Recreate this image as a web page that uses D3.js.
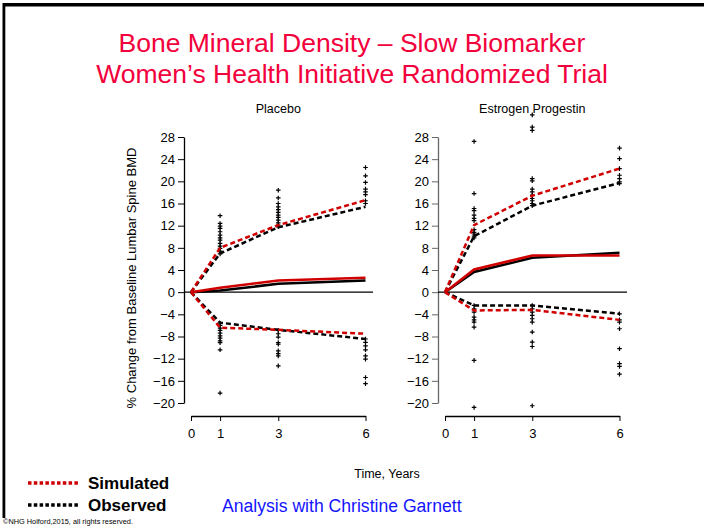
<!DOCTYPE html>
<html>
<head>
<meta charset="utf-8">
<script src="https://cdn.jsdelivr.net/npm/d3@7"></script>
<style>
  body { margin: 0; background: #fff; }
  svg { display: block; font-family: "Liberation Sans", Arial, sans-serif; }
</style>
</head>
<body>
<div id="chart"></div>
<script>
// time points (years)
const times = [0, 1, 3, 6];
const xTicks = [0, 1, 3, 6];
const yTicks = [-20, -16, -12, -8, -4, 0, 4, 8, 12, 16, 20, 24, 28];

// Placebo: percentile bands and medians
const placeboSimUpper = [0, 8.0, 12.1, 16.6];
const placeboObsUpper = [0, 7.0, 11.7, 15.4];
const placeboSimMedian = [0, 0.8, 2.1, 2.6];
const placeboObsMedian = [0, 0.3, 1.5, 2.1];
const placeboSimLower = [0, -6.4, -6.8, -7.5];
const placeboObsLower = [0, -5.5, -6.8, -8.45];

// Estrogen Progestin
const epSimUpper = [0, 12.1, 17.4, 22.3];
const epObsUpper = [0, 10.1, 15.6, 19.7];
const epSimMedian = [0, 4.1, 6.6, 6.6];
const epObsMedian = [0, 3.65, 6.2, 7.1];
const epSimLower = [0, -3.3, -3.2, -5.0];
const epObsLower = [0, -2.4, -2.4, -3.9];

// observed individual values, by time
const placeboPoints = {
  1: [13.8, 12.4, 11.9, 11.5, 10.9, 10.3, 9.8, 9.4, 8.8, 8.3, 7.9, 7.4, 6.9,
      -5.6, -6.0, -6.5, -6.9, -7.4, -7.9, -8.3, -8.8, -9.1, -10.4, -18.2],
  3: [18.4, 17.0, 16.0, 15.4, 14.9, 14.4, 13.9, 13.5, 13.0, 12.5, 12.1, 11.8,
      -6.9, -7.5, -8.1, -9.1, -9.4, -10.6, -11.1, -11.5, -13.3],
  6: [22.5, 21.0, 19.8, 18.6, 18.1, 17.6, 16.5, 16.0,
      -8.45, -9.05, -9.7, -10.4, -11.5, -12.1, -15.4, -16.5]
};
const epPoints = {
  1: [27.2, 17.8, 15.1, 14.7, 13.9, 13.3, 12.9, 11.3, 10.8, 10.5, 10.1, 9.8,
      -2.4, -3.0, -3.6, -4.5, -5.0, -5.4, -6.3, -12.3, -20.8],
  3: [32.0, 29.8, 29.2, 20.5, 20.1, 18.6, 18.1, 17.5, 16.9, 16.5, 16.0, 15.6,
      -2.4, -3.0, -3.6, -4.2, -4.8, -5.4, -7.2, -9.0, -9.8, -20.5],
  6: [26.0, 24.1, 22.3, 21.1, 20.5, 19.9, 19.6,
      -3.9, -5.0, -5.4, -6.6, -10.2, -12.9, -13.4, -14.8]
};

const W = 704, H = 531;
const svg = d3.select('#chart').append('svg')
  .attr('width', W).attr('height', H);

// slide frame
svg.append('rect').attr('x', 3.5).attr('y', 3).attr('width', W).attr('height', 3.5).attr('fill', '#000');
svg.append('rect').attr('x', 2.5).attr('y', 3).attr('width', 2.8).attr('height', 515).attr('fill', '#000');

// title
const titleColor = '#f2003c';
svg.append('text').attr('x', 352).attr('y', 52).attr('text-anchor', 'middle')
  .attr('font-size', 26.5).attr('fill', titleColor)
  .text('Bone Mineral Density – Slow Biomarker');
svg.append('text').attr('x', 352).attr('y', 83).attr('text-anchor', 'middle')
  .attr('font-size', 26.5).attr('fill', titleColor)
  .text('Women’s Health Initiative Randomized Trial');

const y = d3.scaleLinear().domain([-20, 28]).range([403, 137]);

const panels = [
  { name: 'Placebo', x0: 191, axisColor: '#000',
    simU: placeboSimUpper, obsU: placeboObsUpper,
    simM: placeboSimMedian, obsM: placeboObsMedian,
    simL: placeboSimLower, obsL: placeboObsLower, pts: placeboPoints },
  { name: 'Estrogen Progestin', x0: 445, axisColor: '#666',
    simU: epSimUpper, obsU: epObsUpper,
    simM: epSimMedian, obsM: epObsMedian,
    simL: epSimLower, obsL: epObsLower, pts: epPoints }
];

const red = '#d00000';

panels.forEach(p => {
  const x = d3.scaleLinear().domain([0, 6]).range([p.x0, p.x0 + 174.5]);
  const g = svg.append('g');
  const axisX = x(0) - 7;

  // panel label
  g.append('text').attr('x', (x(0) + x(6)) / 2).attr('y', 113)
    .attr('text-anchor', 'middle').attr('font-size', 12.5).text(p.name);

  // y axis
  const yAxis = g.append('g').attr('transform', `translate(${axisX},0)`)
    .call(d3.axisLeft(y).tickValues(yTicks).tickSize(6).tickSizeOuter(0).tickPadding(3));
  yAxis.selectAll('text').attr('font-size', 13).attr('fill', '#000').attr('font-family', null);
  yAxis.select('.domain').attr('stroke', p.axisColor).attr('stroke-width', 1.3);
  yAxis.selectAll('.tick line').attr('stroke', p.axisColor);

  // x axis
  const xAxis = g.append('g').attr('transform', 'translate(0,416)')
    .call(d3.axisBottom(x).tickValues(xTicks).tickFormat(d3.format('d'))
      .tickSize(5).tickSizeOuter(0).tickPadding(8));
  xAxis.selectAll('text').attr('font-size', 13).attr('fill', '#000').attr('font-family', null);
  xAxis.select('.domain').attr('stroke-width', 1.3);

  // zero reference line
  g.append('line').attr('x1', axisX).attr('x2', x(6) + 7.5)
    .attr('y1', y(0)).attr('y2', y(0)).attr('stroke', '#000').attr('stroke-width', 1.2);

  // observed points
  const pts = [];
  Object.keys(p.pts).forEach(t => p.pts[t].forEach(v => pts.push([+t, v])));
  g.append('g').selectAll('path').data(pts).enter().append('path')
    .attr('d', d => `M${x(d[0]) - 2.3},${y(d[1])}h4.6M${x(d[0])},${y(d[1]) - 2.3}v4.6`)
    .attr('stroke', '#000').attr('stroke-width', 1.2);

  const line = d3.line().x((d, i) => x(times[i])).y(d => y(d));
  const draw = (vals, color, dash) => g.append('path').datum(vals)
    .attr('d', line).attr('fill', 'none').attr('stroke', color)
    .attr('stroke-width', 2.5).attr('stroke-dasharray', dash);

  draw(p.obsU, '#000', '5,3');
  draw(p.obsL, '#000', '5,3');
  draw(p.obsM, '#000', null);
  draw(p.simU, red, '5,3');
  draw(p.simL, red, '5,3');
  draw(p.simM, red, null);
});

// y axis label
svg.append('text').attr('transform', 'translate(136,278) rotate(-90)')
  .attr('text-anchor', 'middle').attr('font-size', 13)
  .text('% Change from Baseline Lumbar Spine BMD');

// x axis label
svg.append('text').attr('x', 387).attr('y', 478).attr('text-anchor', 'middle')
  .attr('font-size', 12.5).text('Time, Years');

// legend
const legend = [
  { label: 'Simulated', color: red, y: 483 },
  { label: 'Observed', color: '#000', y: 505 }
];
legend.forEach(l => {
  svg.append('line').attr('x1', 28).attr('x2', 80).attr('y1', l.y).attr('y2', l.y)
    .attr('stroke', l.color).attr('stroke-width', 3.5).attr('stroke-dasharray', '3.5,2.3');
  svg.append('text').attr('x', 88).attr('y', l.y + 6).attr('font-size', 17)
    .attr('font-weight', 'bold').text(l.label);
});

svg.append('text').attr('x', 222).attr('y', 512).attr('font-size', 17.6)
  .attr('fill', '#1414ff').text('Analysis with Christine Garnett');

svg.append('text').attr('x', 3).attr('y', 524).attr('font-size', 7)
  .attr('textLength', 130).attr('lengthAdjust', 'spacingAndGlyphs')
  .text('©NHG Holford,2015, all rights reserved.');
</script>
</body>
</html>
